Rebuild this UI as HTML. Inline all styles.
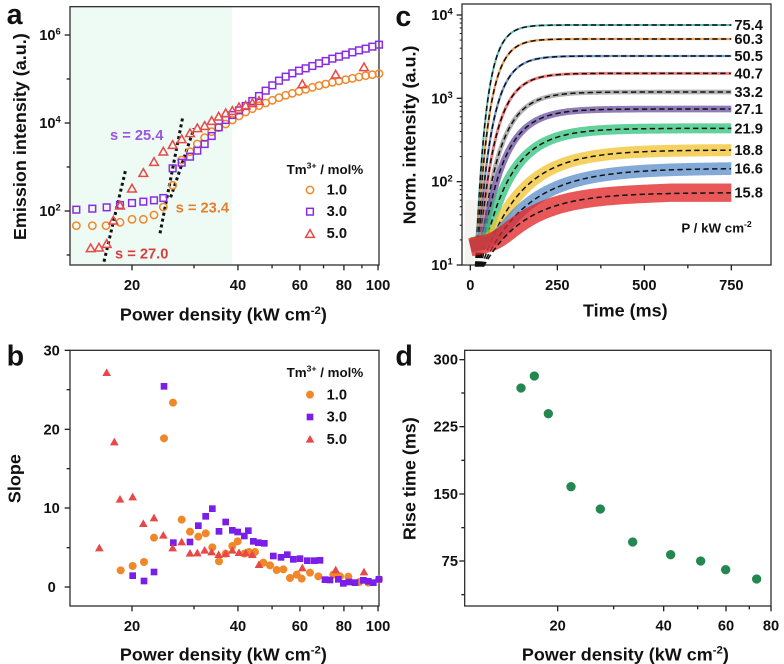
<!DOCTYPE html>
<html><head><meta charset="utf-8"><style>
html,body{margin:0;padding:0;background:#fff;}
svg{display:block;font-family:"Liberation Sans",Arial,sans-serif;font-weight:bold;}
</style></head><body>
<svg id="s" width="784" height="664" viewBox="0 0 784 664" xmlns="http://www.w3.org/2000/svg">
<g id="ga" transform="scale(0.33333)"></g>
<g id="gb" transform="translate(0,332) scale(0.33333)"></g>
<g id="gc" transform="translate(392,0) scale(0.33333)"></g>
<g id="gd" transform="translate(392,332) scale(0.33333)"></g>
</svg>
<script>
const NS="http://www.w3.org/2000/svg";
function el(g,t,a,txt){const e=document.createElementNS(NS,t);for(const k in a)e.setAttribute(k,a[k]);if(txt!==undefined)e.innerHTML=txt;g.appendChild(e);return e;}
function circ(g,x,y,c,fill){el(g,'circle',{cx:x,cy:y,r:fill?12:11,fill:fill?c:'none',stroke:c,'stroke-width':fill?0:4.5});}
function sq(g,x,y,c,fill){el(g,'rect',{x:x-10,y:y-10,width:20,height:20,fill:fill?c:'none',stroke:c,'stroke-width':fill?0:4.5});}
function tri(g,x,y,c,fill){el(g,'polygon',{points:`${x},${y-13} ${x+13},${y+10} ${x-13},${y+10}`,fill:fill?c:'none',stroke:c,'stroke-width':fill?0:4.5,'stroke-linejoin':'miter'});}
function P(s){return s.trim().split(/\s+/).map(p=>p.split(',').map(Number));}
const OR='#f0882a',PU='#8a2be2',RD='#e84848';
function xaxis(g,x20,ppd,x0,x1,yb,labels){
  for(let v=10;v<=100;v+=10){const x=x20+ppd*Math.log10(v/20);if(x<x0-1||x>x1+1)continue;
    el(g,'line',{x1:x,y1:yb,x2:x,y2:yb+(labels.includes(v)?16:10),stroke:'#222','stroke-width':4});}
  labels.forEach(v=>{const x=x20+ppd*Math.log10(v/20);el(g,'text',{x:x,y:yb+75,'font-size':44,'text-anchor':'middle',fill:'#111'},v);});
}
function frame(g,x0,y0,x1,y1){el(g,'rect',{x:x0,y:y0,width:x1-x0,height:y1-y0,fill:'none',stroke:'#333','stroke-width':4});}

// ===== Panel a =====
(function(){
const g=document.getElementById('ga');
el(g,'rect',{x:210,y:20,width:487,height:775,fill:'#eefaf4'});
frame(g,210,20,1137,795);
[[105,'6'],[369,'4'],[633,'2']].forEach(([y,e])=>{
 el(g,'line',{x1:194,y1:y,x2:210,y2:y,stroke:'#222','stroke-width':4});
 el(g,'text',{x:150,y:y+15,'font-size':44,'text-anchor':'middle',fill:'#111'},'10<tspan dy="-16" font-size="28">'+e+'</tspan>');});
[237,501,765].forEach(y=>el(g,'line',{x1:200,y1:y,x2:210,y2:y,stroke:'#222','stroke-width':4}));
xaxis(g,396,1056,210,1137,795,[20,40,60,80,100]);
el(g,'text',{x:670,y:962,'font-size':54,'text-anchor':'middle',fill:'#111'},'Power density (kW cm<tspan dy="-20" font-size="34">-2</tspan><tspan dy="20">)</tspan>');
el(g,'text',{transform:'translate(78,410) rotate(-90)','font-size':54,'text-anchor':'middle',fill:'#111'},'Emission intensity (a.u.)');
el(g,'text',{x:20,y:72,'font-size':86,fill:'#111'},'a');
[[312,785,378,505],[480,700,548,352],[512,592,582,385]].forEach(([a,b,c,d])=>el(g,'line',{x1:a,y1:b,x2:c,y2:d,stroke:'#111','stroke-width':9,'stroke-dasharray':'9 9'}));
P(`229,677 277,677 318,677 360,667 396,658 430,658 462,645 490,621 518,556 545,480 570,455 592,432 614,413 635,395 656,383 677,372 697,360 717,348 737,336 757,326 777,317 797,309 817,301 837,293 857,286 877,280 897,274 917,268 937,262 957,257 977,252 997,247 1017,243 1037,239 1057,235 1077,231 1097,227 1117,224 1137,221`).forEach(p=>circ(g,p[0],p[1],OR,0));
P(`229,629 277,626 320,622 360,615 396,609 430,605 462,601 490,594 518,505 545,488 570,470 592,452 614,432 635,408 656,382 677,360 697,345 717,331 737,318 757,303 777,288 797,272 817,256 837,242 857,230 877,220 897,212 917,205 937,198 957,190 977,183 997,176 1017,170 1037,164 1057,157 1077,151 1097,146 1117,140 1137,134`).forEach(p=>sq(g,p[0],p[1],PU,0));
P(`272,745 297,743 320,732 340,662 360,617 396,566 430,519 462,486 490,455 518,435 545,418 570,400 592,385 614,378 635,363 656,350 677,340 697,333 717,322 737,317 757,310 777,303 907,253 1007,224 1092,202`).forEach(p=>tri(g,p[0],p[1],RD,0));
el(g,'text',{x:330,y:420,'font-size':44,fill:'#9b55e0'},'s = 25.4');
el(g,'text',{x:527,y:637,'font-size':44,fill:'#e87d2a'},'s = 23.4');
el(g,'text',{x:345,y:775,'font-size':44,fill:'#d84040'},'s = 27.0');
el(g,'text',{x:860,y:522,'font-size':40,fill:'#111'},'Tm<tspan dy="-16" font-size="26">3+</tspan><tspan dy="16"> / mol%</tspan>');
circ(g,930,570,OR,0);sq(g,930,635,PU,0);tri(g,930,702,RD,0);
[['1.0',583],['3.0',648],['5.0',714]].forEach(([t,y])=>el(g,'text',{x:980,y:y,'font-size':44,fill:'#111'},t));
})();

// ===== Panel b =====
(function(){
const g=document.getElementById('gb');
frame(g,210,55,1137,822);
[[55,'30'],[292,'20'],[528,'10'],[765,'0']].forEach(([y,t])=>{
 el(g,'line',{x1:194,y1:y,x2:210,y2:y,stroke:'#222','stroke-width':4});
 el(g,'text',{x:155,y:y+15,'font-size':44,'text-anchor':'middle',fill:'#111'},t);});
[173,410,647].forEach(y=>el(g,'line',{x1:200,y1:y,x2:210,y2:y,stroke:'#222','stroke-width':4}));
xaxis(g,396,1056,210,1137,822,[20,40,60,80,100]);
el(g,'text',{x:670,y:985,'font-size':54,'text-anchor':'middle',fill:'#111'},'Power density (kW cm<tspan dy="-20" font-size="34">-2</tspan><tspan dy="20">)</tspan>');
el(g,'text',{transform:'translate(62,440) rotate(-90)','font-size':54,'text-anchor':'middle',fill:'#111'},'Slope');
el(g,'text',{x:20,y:100,'font-size':86,fill:'#111'},'b');
P(`362,715 398,702 432,690 462,617 492,319 519,212 545,563 570,599 595,614 617,604 637,646 657,688 677,665 697,642 713,628 733,665 747,660 765,660 790,692 810,700 830,714 850,712 870,738 890,728 905,740 930,722 955,733 1000,728 1020,733 1045,734 1078,750 1105,752 1137,742`).forEach(p=>circ(g,p[0],p[1],OR,1));
P(`398,731 432,747 462,720 492,163 520,632 570,630 595,581 617,553 637,530 657,598 677,570 697,595 713,600 733,612 745,596 760,628 775,632 793,634 820,672 843,676 862,668 880,682 900,680 922,686 943,686 960,685 975,743 990,744 1015,742 1030,754 1047,750 1065,752 1090,745 1105,748 1120,752 1137,742`).forEach(p=>sq(g,p[0],p[1],'#7a1fe8',1));
P(`298,648 320,122 343,330 360,502 398,495 430,575 462,558 490,610 518,648 545,630 570,664 592,663 614,655 635,660 656,668 677,665 697,655 717,662 737,663 757,668 777,698 907,708 1007,714 1092,720`).forEach(p=>tri(g,p[0],p[1],RD,1));
el(g,'text',{x:860,y:135,'font-size':40,fill:'#111'},'Tm<tspan dy="-16" font-size="26">3+</tspan><tspan dy="16"> / mol%</tspan>');
circ(g,930,188,OR,1);sq(g,930,255,'#7a1fe8',1);tri(g,930,322,RD,1);
[['1.0',202],['3.0',269],['5.0',336]].forEach(([t,y])=>el(g,'text',{x:980,y:y,'font-size':44,fill:'#111'},t));
})();

// ===== Panel c =====
(function(){
const g=document.getElementById('gc');
frame(g,210,12,1137,795);
[[45,'4'],[295,'3'],[545,'2'],[795,'1']].forEach(([y,e])=>{
 el(g,'line',{x1:194,y1:y,x2:210,y2:y,stroke:'#222','stroke-width':4});
 el(g,'text',{x:150,y:y+15,'font-size':44,'text-anchor':'middle',fill:'#111'},'10<tspan dy="-16" font-size="28">'+e+'</tspan>');});
for(let d=0;d<3;d++)for(let m=2;m<10;m++){const y=45+250*d+250*(1-Math.log10(m));el(g,'line',{x1:203,y1:y,x2:210,y2:y,stroke:'#222','stroke-width':3});}
const tx=t=>235+t*1.044;
[0,125,250,375,500,625,750].forEach((t,i)=>{el(g,'line',{x1:tx(t),y1:795,x2:tx(t),y2:795+(i%2?10:16),stroke:'#222','stroke-width':4});
 if(i%2==0)el(g,'text',{x:tx(t),y:870,'font-size':44,'text-anchor':'middle',fill:'#111'},t);});
el(g,'text',{x:700,y:950,'font-size':54,'text-anchor':'middle',fill:'#111'},'Time (ms)');
el(g,'text',{transform:'translate(70,405) rotate(-90)','font-size':54,'text-anchor':'middle',fill:'#111'},'Norm. intensity (a.u.)');
el(g,'text',{x:10,y:78,'font-size':86,fill:'#111'},'c');
const curves=[
 [75,'#2aa6a6',30,6,'75.4'],[117,'#e8832a',34,7,'60.3'],[168,'#4a78c0',40,7,'50.5'],[220,'#e85a5a',46,9,'40.7'],
 [276,'#9a9a9a',55,14,'33.2'],[327,'#6a4fa0',62,20,'27.1'],[385,'#2ec27a',80,30,'21.9'],[450,'#f2c12e',110,36,'18.8'],
 [505,'#5a8cc8',130,38,'16.6'],[578,'#e02020',120,55,'15.8']];
el(g,'rect',{x:218,y:600,width:40,height:195,fill:'#c8c0a8',opacity:0.18});
const smin=(a,b,k)=>{const m=Math.min(a,b);return m-k*Math.log(Math.exp(-(a-m)/k)+Math.exp(-(b-m)/k));};
curves.forEach(([ya,c,tau,w,lab],i)=>{
  const t0=15+i*2.5;let d='',dd='';
  const f=t=>ya+(800-ya)*Math.exp(-(t-t0)/tau);
  for(let t=0;t<=750;t+=3){const y=Math.max(smin(f(t),715+i*3-0.22*t,18),ya);d+=(t?'L':'M')+tx(t).toFixed(1)+','+y.toFixed(1);}
  for(let t=t0;t<=750;t+=3){dd+=(t>t0?'L':'M')+tx(t).toFixed(1)+','+f(t).toFixed(1);}
  el(g,'path',{d:d,fill:'none',stroke:c,'stroke-width':w,opacity:0.75,'stroke-linejoin':'round'});
  el(g,'path',{d:dd,fill:'none',stroke:'#111','stroke-width':4.5,'stroke-dasharray':'16 10'});
  el(g,'text',{x:1027,y:ya+15,'font-size':44,fill:'#111'},lab);
});
el(g,'text',{x:868,y:697,'font-size':40,fill:'#111'},'P / kW cm<tspan dy="-16" font-size="26">-2</tspan>');
})();

// ===== Panel d =====
(function(){
const g=document.getElementById('gd');
frame(g,218,55,1137,822);
[[83,'300'],[284,'225'],[486,'150'],[687,'75']].forEach(([y,t])=>{
 el(g,'line',{x1:202,y1:y,x2:218,y2:y,stroke:'#222','stroke-width':4});
 el(g,'text',{x:198,y:y+15,'font-size':44,'text-anchor':'end',fill:'#111'},t);});
[183,385,587,788].forEach(y=>el(g,'line',{x1:208,y1:y,x2:218,y2:y,stroke:'#222','stroke-width':4}));
[[20,497],[30,665],[40,815],[50,917],[60,1002],[70,1072],[80,1137]].forEach(([v,x])=>{const big=v%20==0;
 el(g,'line',{x1:x,y1:822,x2:x,y2:822+(big?16:10),stroke:'#222','stroke-width':4});
 if(big)el(g,'text',{x:x,y:895,'font-size':44,'text-anchor':'middle',fill:'#111'},v);});
el(g,'text',{x:700,y:985,'font-size':54,'text-anchor':'middle',fill:'#111'},'Power density (kW cm<tspan dy="-20" font-size="34">-2</tspan><tspan dy="20">)</tspan>');
el(g,'text',{transform:'translate(70,440) rotate(-90)','font-size':54,'text-anchor':'middle',fill:'#111'},'Rise time (ms)');
el(g,'text',{x:10,y:100,'font-size':86,fill:'#111'},'d');
P(`387,168 427,132 469,245 537,464 625,531 722,630 836,668 926,687 1001,713 1094,741`).forEach(p=>el(g,'circle',{cx:p[0],cy:p[1],r:14,fill:'#23874f'}));
})();
</script>
</body></html>
